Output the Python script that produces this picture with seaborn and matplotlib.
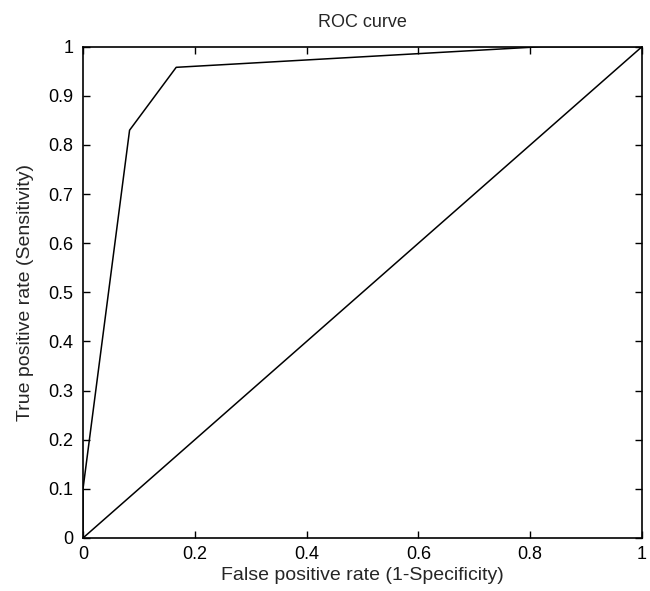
import numpy as np
import pandas as pd
import seaborn as sns
import matplotlib.pyplot as plt

# ROC points
fpr = [0.0, 0.0, 0.0833, 0.1667, 0.82, 1.0]
tpr = [0.0, 0.1, 0.83, 0.958, 1.0, 1.0]
diag = [0.0, 1.0]

sns.set_style("ticks")
plt.rcParams['font.family'] = ['Liberation Sans', 'DejaVu Sans']

fig = plt.figure(figsize=(6.5, 5.91), dpi=100)
ax = fig.add_axes([0.1277, 0.0897, 0.86, 0.8313])

roc = pd.DataFrame({"fpr": fpr, "tpr": tpr})
sns.lineplot(data=roc, x="fpr", y="tpr", sort=False, estimator=None,
             color="black", linewidth=1.1, ax=ax)
sns.lineplot(x=diag, y=diag, color="black", linewidth=1.1, ax=ax)

ax.set_xlim(0, 1)
ax.set_ylim(0, 1)
ax.set_xticks([0, 0.2, 0.4, 0.6, 0.8, 1])
ax.set_xticklabels(["0", "0.2", "0.4", "0.6", "0.8", "1"])
ax.set_yticks(np.round(np.arange(0, 1.01, 0.1), 1))
ax.set_yticklabels(["0"] + [f"{v:.1f}" for v in np.arange(0.1, 0.95, 0.1)] + ["1"])
ax.tick_params(direction="in", top=True, right=True, length=5, width=1,
               labelsize=13, colors="black")
ax.tick_params(axis="y", pad=7)
ax.tick_params(axis="x", pad=6)
for s in ax.spines.values():
    s.set_visible(True)
    s.set_linewidth(1.2)
    s.set_color("black")

ax.set_xlabel("False positive rate (1-Specificity)", fontsize=14, labelpad=3)
ax.set_ylabel("True positive rate (Sensitivity)", fontsize=14, labelpad=10)
ax.set_title("ROC curve", fontsize=13, pad=14)

plt.savefig("out.png", dpi=100)
plt.close()
